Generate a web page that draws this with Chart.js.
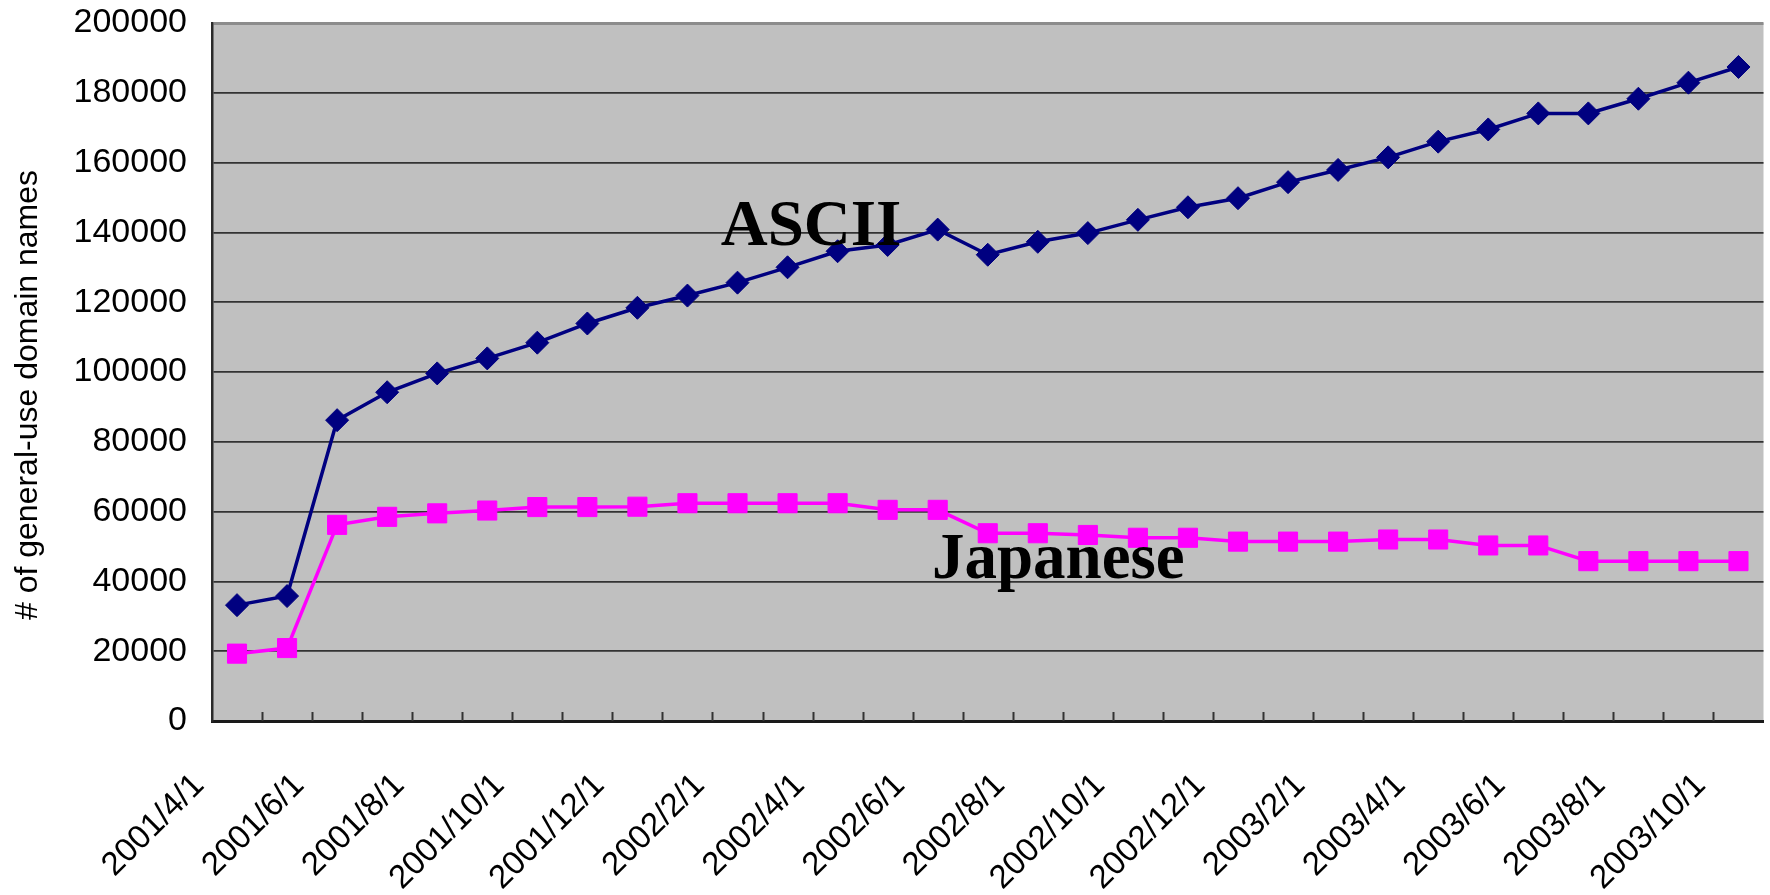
<!DOCTYPE html>
<html>
<head>
<meta charset="utf-8">
<title>General-use domain names</title>
<script src="https://cdn.jsdelivr.net/npm/chart.js@4.4.1/dist/chart.umd.min.js"></script>
<style>
  html, body { margin: 0; padding: 0; background: #fff; overflow: hidden; }
  #wrap { position: relative; width: 1778px; height: 895px; }
</style>
</head>
<body>
<div id="wrap"><canvas id="domainChart"></canvas></div>
<script>
// Data
const months = [
    "2001/4/1", "2001/5/1", "2001/6/1", "2001/7/1", "2001/8/1", "2001/9/1",
    "2001/10/1", "2001/11/1", "2001/12/1", "2002/1/1", "2002/2/1", "2002/3/1",
    "2002/4/1", "2002/5/1", "2002/6/1", "2002/7/1", "2002/8/1", "2002/9/1",
    "2002/10/1", "2002/11/1", "2002/12/1", "2003/1/1", "2003/2/1", "2003/3/1",
    "2003/4/1", "2003/5/1", "2003/6/1", "2003/7/1", "2003/8/1", "2003/9/1",
    "2003/10/1"
];
const asciiCounts = [
    33200, 35800, 86200, 94200, 99600, 103900, 108400, 113900, 118400, 121900,
    125600, 130000, 134600, 136400, 140800, 133600, 137300, 139800, 143600, 147200,
    149800, 154400, 157900, 161500, 166000, 169500, 174100, 174100, 178300, 182900,
    187400
];
const japaneseCounts = [
    19300, 20900, 56200, 58500, 59500, 60300, 61300, 61300, 61400, 62400,
    62400, 62400, 62400, 60500, 60500, 53800, 53800, 53300, 52500, 52500,
    51400, 51400, 51400, 52000, 52000, 50300, 50300, 45800, 45800, 45800,
    45800
];
const yTickValues = [0, 20000, 40000, 60000, 80000, 100000, 120000, 140000, 160000, 180000, 200000];
const seriesNames = ["ASCII", "Japanese"];
const yAxisTitle = "# of general-use domain names";

const SANS = "'Liberation Sans', Arial, sans-serif";
const SERIF = "'Liberation Serif', 'Times New Roman', serif";

/**
 * PLOT BACKGROUND (grey panel behind the grid)
 */
const plotBackground = {
    id: "plotBackground",
    beforeDraw(chart) {
        const { ctx, chartArea: a } = chart;
        ctx.save();
        ctx.fillStyle = "#c0c0c0";
        ctx.fillRect(a.left, a.top, a.right - a.left, a.bottom - a.top);
        ctx.restore();
    }
};

/**
 * INNER TICKS, SERIES NAMES AND Y TITLE
 */
const overlays = {
    id: "overlays",
    afterDraw(chart) {
        const { ctx, chartArea: a } = chart;
        const x = chart.scales.x;
        const y = chart.scales.y;
        ctx.save();

        // small tick marks pointing up into the plot, between categories
        ctx.strokeStyle = "#333";
        ctx.lineWidth = 2;
        ctx.beginPath();
        for (let i = 1; i < months.length; i++) {
            const px = Math.round((x.getPixelForValue(i - 1) + x.getPixelForValue(i)) / 2) + 0.5;
            ctx.moveTo(px, a.bottom);
            ctx.lineTo(px, a.bottom - 9);
        }
        ctx.stroke();

        // series names written on the plot
        ctx.fillStyle = "#000";
        ctx.font = "bold 65px " + SERIF;
        ctx.textAlign = "center";
        ctx.textBaseline = "alphabetic";
        ctx.fillText(seriesNames[0], x.getPixelForValue(11.47), y.getPixelForValue(136400));
        ctx.fillText(seriesNames[1], x.getPixelForValue(16.41), y.getPixelForValue(41000));

        // y axis title
        ctx.font = "32px " + SANS;
        ctx.textBaseline = "middle";
        ctx.translate(28, (a.top + a.bottom) / 2 + 23);
        ctx.rotate(-Math.PI / 2);
        ctx.fillText(yAxisTitle, 0, 0);
        ctx.restore();
    }
};

function renderDomainChart() {
    const canvas = document.getElementById("domainChart");
    if (!canvas) return;

    new Chart(canvas, {
        type: "line",
        data: {
            labels: months,
            datasets: [
                {
                    label: seriesNames[0],
                    data: asciiCounts,
                    borderColor: "#000080",
                    backgroundColor: "#000080",
                    borderWidth: 3.5,
                    pointStyle: "rectRot",
                    pointRadius: 11.5,
                    pointBorderWidth: 1,
                    tension: 0
                },
                {
                    label: seriesNames[1],
                    data: japaneseCounts,
                    borderColor: "#ff00ff",
                    backgroundColor: "#ff00ff",
                    borderWidth: 3.5,
                    pointStyle: "rect",
                    pointRadius: 13.5,
                    pointBorderWidth: 1,
                    tension: 0
                }
            ]
        },
        options: {
            responsive: true,
            maintainAspectRatio: false,
            animation: false,
            layout: { padding: { top: 23, left: 0, right: 0, bottom: 0 } },
            plugins: {
                legend: { display: false },
                tooltip: { enabled: false }
            },
            scales: {
                x: {
                    offset: true,
                    grid: { display: false, drawTicks: false },
                    border: { display: true, color: "#1a1a1a", width: 3 },
                    ticks: {
                        autoSkip: false,
                        minRotation: 45,
                        maxRotation: 45,
                        padding: 45,
                        labelOffset: -38,
                        color: "#000",
                        font: { family: SANS, size: 33 },
                        callback(value, index) {
                            return index % 2 === 0 ? this.getLabelForValue(value) : "";
                        }
                    },
                    afterFit(scale) {
                        scale.height = 174;
                        scale.paddingLeft = 0;
                        scale.paddingRight = 0;
                    }
                },
                y: {
                    min: yTickValues[0],
                    max: yTickValues[yTickValues.length - 1],
                    afterBuildTicks(scale) {
                        scale.ticks = yTickValues.map(v => ({ value: v }));
                    },
                    grid: {
                        drawTicks: false,
                        color: c => (c.tick && c.tick.value === yTickValues[yTickValues.length - 1]) ? "#8c8c8c" : "#333333",
                        lineWidth: c => (c.tick && c.tick.value === yTickValues[yTickValues.length - 1]) ? 3 : 1.7
                    },
                    border: { display: true, color: "#2a2a2a", width: 2.5 },
                    ticks: {
                        padding: 25,
                        color: "#000",
                        font: { family: SANS, size: 34 },
                        callback: value => String(value)
                    },
                    afterFit(scale) {
                        scale.width = 212;
                        scale.paddingTop = 0;
                        scale.paddingBottom = 0;
                    }
                }
            }
        },
        plugins: [plotBackground, overlays]
    });
}

renderDomainChart();
</script>
</body>
</html>
